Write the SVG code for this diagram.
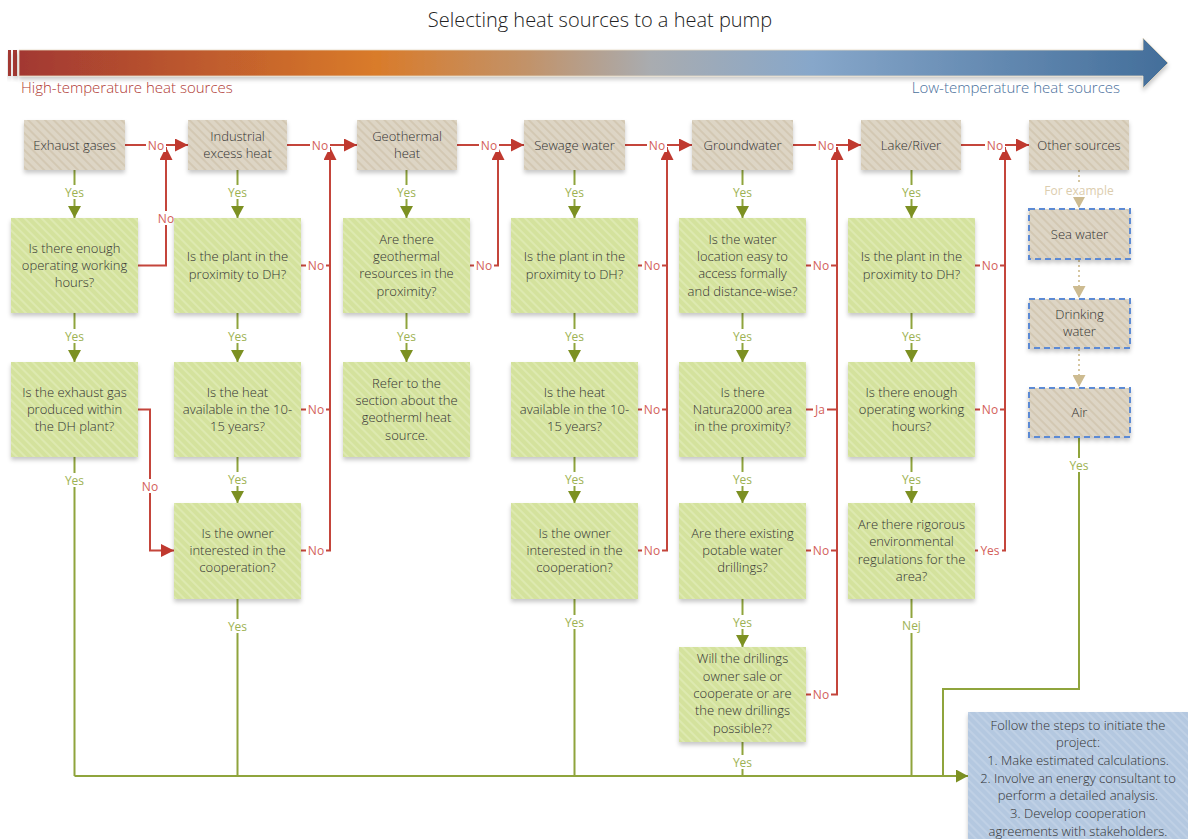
<svg xmlns="http://www.w3.org/2000/svg" width="1188" height="839" viewBox="0 0 1188 839">
<style>
.t{font-family:"Open Sans","Liberation Sans",sans-serif;font-weight:300;fill:#333;font-size:13px;text-anchor:middle}
.st{font-size:13px}
.src{fill:url(#hb)}
.q{fill:url(#hg)}
.ex{fill:url(#hb);stroke:#5B8AD4;stroke-width:2;stroke-dasharray:6 4}
.fin{fill:url(#hbl)}
.r{fill:none;stroke:#C4453B;stroke-width:2}
.g{fill:none;stroke:#8FA43C;stroke-width:2}
.b{fill:none;stroke:#D6C7A2;stroke-width:2;stroke-dasharray:2 3}
.lb{fill:#fff}
.ly{font-family:"Open Sans","Liberation Sans",sans-serif;font-size:12px;fill:#9DB252;text-anchor:middle}
.ln{font-family:"Open Sans","Liberation Sans",sans-serif;font-size:12px;fill:#D3605A;text-anchor:middle}
.le{font-family:"Open Sans","Liberation Sans",sans-serif;font-size:12px;fill:#DCCDAE;text-anchor:middle}
</style>
<defs>
<pattern id="hb" width="6" height="6" patternUnits="userSpaceOnUse" patternTransform="rotate(-45)"><rect width="6" height="6" fill="#DDD5C5"/><rect width="2" height="6" fill="#D3C8B3"/></pattern>
<pattern id="hg" width="6" height="6" patternUnits="userSpaceOnUse" patternTransform="rotate(-45)"><rect width="6" height="6" fill="#D4E29D"/><rect width="2" height="6" fill="#DDE9B0"/></pattern>
<pattern id="hbl" width="6" height="6" patternUnits="userSpaceOnUse" patternTransform="rotate(-45)"><rect width="6" height="6" fill="#B4C8E0"/><rect width="2" height="6" fill="#BFD0E5"/></pattern>
<linearGradient id="bar" x1="19" y1="0" x2="1168" y2="0" gradientUnits="userSpaceOnUse">
<stop offset="0" stop-color="#A23831"/><stop offset="0.31" stop-color="#D97B2A"/><stop offset="0.44" stop-color="#C29268"/><stop offset="0.55" stop-color="#A9ACB0"/><stop offset="0.69" stop-color="#87A7CA"/><stop offset="1" stop-color="#436E9A"/>
</linearGradient>
<filter id="sh" x="-10%" y="-10%" width="120%" height="130%"><feDropShadow dx="0" dy="3" stdDeviation="2" flood-color="#000" flood-opacity="0.22"/></filter>
<marker id="ar" markerUnits="userSpaceOnUse" markerWidth="13" markerHeight="13" refX="13" refY="6.5" orient="auto"><path d="M0,0 L13,6.5 L0,13 Z" fill="#C0392F"/></marker>
<marker id="ag" markerUnits="userSpaceOnUse" markerWidth="13" markerHeight="13" refX="12" refY="6.5" orient="auto"><path d="M0,0 L12,6.5 L0,13 Z" fill="#7C9022"/></marker>
<marker id="ab" markerUnits="userSpaceOnUse" markerWidth="13" markerHeight="13" refX="12" refY="6.5" orient="auto"><path d="M0,0 L12,6.5 L0,13 Z" fill="#CDBB90"/></marker>
</defs>
<rect width="1188" height="839" fill="#fff"/>
<g id="header">
<text x="600" y="27" style="font-family:'Open Sans','Liberation Sans',sans-serif;font-weight:300;font-size:20px;fill:#222;text-anchor:middle">Selecting heat sources to a heat pump</text>
<rect x="8" y="50" width="3" height="26" fill="#A23831" filter="url(#sh)"/>
<rect x="13" y="50" width="4" height="26" fill="#A23831" filter="url(#sh)"/>
<path d="M19,50 H1143 V38 L1168,63 L1143,88 V76 H19 Z" fill="url(#bar)" stroke="#E6D9C2" stroke-width="0.8" filter="url(#sh)"/>
<text x="21" y="93" style="font-family:'Open Sans','Liberation Sans',sans-serif;font-weight:300;font-size:15px;fill:#B03A34">High-temperature heat sources</text>
<text x="1120" y="93" style="font-family:'Open Sans','Liberation Sans',sans-serif;font-weight:300;font-size:15px;fill:#4A6F9C;text-anchor:end">Low-temperature heat sources</text>
</g>
<g id="connectors">
<path class="r" d="M125,145 H188" marker-end="url(#ar)"/>
<path class="r" d="M287,145 H357" marker-end="url(#ar)"/>
<path class="r" d="M457,145 H524" marker-end="url(#ar)"/>
<path class="r" d="M625,145 H692" marker-end="url(#ar)"/>
<path class="r" d="M793,145 H861" marker-end="url(#ar)"/>
<path class="r" d="M961,145 H1029" marker-end="url(#ar)"/>
<path class="r" d="M138,265.5 H166 V147" marker-end="url(#ar)"/>
<path class="r" d="M301,265.5 H330 M301,409.5 H330 M301,550.5 H330 V147" marker-end="url(#ar)"/>
<path class="r" d="M470,265.5 H498 V147" marker-end="url(#ar)"/>
<path class="r" d="M638,265.5 H667 M638,409.5 H667 M638,550.5 H667 V147" marker-end="url(#ar)"/>
<path class="r" d="M806,265.5 H837 M806,409.5 H837 M806,550.5 H837 M806,694.5 H837 V147" marker-end="url(#ar)"/>
<path class="r" d="M975,265.5 H1005 M975,409.5 H1005 M975,550.5 H1005 V147" marker-end="url(#ar)"/>
<path class="r" d="M138,409.5 H150 V550.5 H174" marker-end="url(#ar)"/>
<path class="g" d="M74.5,170 V218" marker-end="url(#ag)"/>
<path class="g" d="M74.5,313 V362" marker-end="url(#ag)"/>
<path class="g" d="M237.5,170 V218" marker-end="url(#ag)"/>
<path class="g" d="M237.5,313 V362" marker-end="url(#ag)"/>
<path class="g" d="M237.5,457 V503" marker-end="url(#ag)"/>
<path class="g" d="M406.5,170 V218" marker-end="url(#ag)"/>
<path class="g" d="M406.5,313 V362" marker-end="url(#ag)"/>
<path class="g" d="M574.5,170 V218" marker-end="url(#ag)"/>
<path class="g" d="M574.5,313 V362" marker-end="url(#ag)"/>
<path class="g" d="M574.5,457 V503" marker-end="url(#ag)"/>
<path class="g" d="M742.5,170 V218" marker-end="url(#ag)"/>
<path class="g" d="M742.5,313 V362" marker-end="url(#ag)"/>
<path class="g" d="M742.5,457 V503" marker-end="url(#ag)"/>
<path class="g" d="M742.5,599 V647" marker-end="url(#ag)"/>
<path class="g" d="M911.5,170 V218" marker-end="url(#ag)"/>
<path class="g" d="M911.5,313 V362" marker-end="url(#ag)"/>
<path class="g" d="M911.5,457 V503" marker-end="url(#ag)"/>
<path class="g" d="M74.5,457 V776 M237.5,599 V776 M574.5,599 V776 M742.5,742 V776 M911.5,599 V776 M1079,438 V689 H943 V776"/>
<path class="g" d="M74.5,776 H968" marker-end="url(#ag)"/>
<path class="b" d="M1079,170 V208" marker-end="url(#ab)"/>
<path class="b" d="M1079,260 V298" marker-end="url(#ab)"/>
<path class="b" d="M1079,349 V387" marker-end="url(#ab)"/>
<g>
<rect class="lb" x="146" y="138" width="20" height="14"/><text class="ln" x="156" y="149.5">No</text>
<rect class="lb" x="310" y="138" width="20" height="14"/><text class="ln" x="320" y="149.5">No</text>
<rect class="lb" x="479" y="138" width="20" height="14"/><text class="ln" x="489" y="149.5">No</text>
<rect class="lb" x="647" y="138" width="20" height="14"/><text class="ln" x="657" y="149.5">No</text>
<rect class="lb" x="816" y="138" width="20" height="14"/><text class="ln" x="826" y="149.5">No</text>
<rect class="lb" x="985" y="138" width="20" height="14"/><text class="ln" x="995" y="149.5">No</text>
<rect class="lb" x="156" y="211" width="20" height="14"/><text class="ln" x="166" y="222.5">No</text>
<rect class="lb" x="140" y="479" width="20" height="14"/><text class="ln" x="150" y="490.5">No</text>
<rect class="lb" x="306" y="258.5" width="20" height="14"/><text class="ln" x="316" y="270">No</text>
<rect class="lb" x="306" y="402.5" width="20" height="14"/><text class="ln" x="316" y="414">No</text>
<rect class="lb" x="306" y="543.5" width="20" height="14"/><text class="ln" x="316" y="555">No</text>
<rect class="lb" x="474" y="258.5" width="20" height="14"/><text class="ln" x="484" y="270">No</text>
<rect class="lb" x="642" y="258.5" width="20" height="14"/><text class="ln" x="652" y="270">No</text>
<rect class="lb" x="642" y="402.5" width="20" height="14"/><text class="ln" x="652" y="414">No</text>
<rect class="lb" x="642" y="543.5" width="20" height="14"/><text class="ln" x="652" y="555">No</text>
<rect class="lb" x="811" y="258.5" width="20" height="14"/><text class="ln" x="821" y="270">No</text>
<rect class="lb" x="813" y="402.5" width="14" height="14"/><text class="ln" x="820" y="414">Ja</text>
<rect class="lb" x="811" y="543.5" width="20" height="14"/><text class="ln" x="821" y="555">No</text>
<rect class="lb" x="811" y="687.5" width="20" height="14"/><text class="ln" x="821" y="699">No</text>
<rect class="lb" x="980" y="258.5" width="20" height="14"/><text class="ln" x="990" y="270">No</text>
<rect class="lb" x="980" y="402.5" width="20" height="14"/><text class="ln" x="990" y="414">No</text>
<rect class="lb" x="978" y="543.5" width="24" height="14"/><text class="ln" x="990" y="555">Yes</text>
</g>
<g>
<rect class="lb" x="62" y="185" width="25" height="14"/><text class="ly" x="74.5" y="196.5">Yes</text>
<rect class="lb" x="62" y="329" width="25" height="14"/><text class="ly" x="74.5" y="340.5">Yes</text>
<rect class="lb" x="62" y="473" width="25" height="14"/><text class="ly" x="74.5" y="484.5">Yes</text>
<rect class="lb" x="225" y="185" width="25" height="14"/><text class="ly" x="237.5" y="196.5">Yes</text>
<rect class="lb" x="225" y="329" width="25" height="14"/><text class="ly" x="237.5" y="340.5">Yes</text>
<rect class="lb" x="225" y="472" width="25" height="14"/><text class="ly" x="237.5" y="483.5">Yes</text>
<rect class="lb" x="225" y="619" width="25" height="14"/><text class="ly" x="237.5" y="630.5">Yes</text>
<rect class="lb" x="394" y="185" width="25" height="14"/><text class="ly" x="406.5" y="196.5">Yes</text>
<rect class="lb" x="394" y="329" width="25" height="14"/><text class="ly" x="406.5" y="340.5">Yes</text>
<rect class="lb" x="562" y="185" width="25" height="14"/><text class="ly" x="574.5" y="196.5">Yes</text>
<rect class="lb" x="562" y="329" width="25" height="14"/><text class="ly" x="574.5" y="340.5">Yes</text>
<rect class="lb" x="562" y="472" width="25" height="14"/><text class="ly" x="574.5" y="483.5">Yes</text>
<rect class="lb" x="562" y="615" width="25" height="14"/><text class="ly" x="574.5" y="626.5">Yes</text>
<rect class="lb" x="730" y="185" width="25" height="14"/><text class="ly" x="742.5" y="196.5">Yes</text>
<rect class="lb" x="730" y="329" width="25" height="14"/><text class="ly" x="742.5" y="340.5">Yes</text>
<rect class="lb" x="730" y="472" width="25" height="14"/><text class="ly" x="742.5" y="483.5">Yes</text>
<rect class="lb" x="730" y="615" width="25" height="14"/><text class="ly" x="742.5" y="626.5">Yes</text>
<rect class="lb" x="730" y="755" width="25" height="14"/><text class="ly" x="742.5" y="766.5">Yes</text>
<rect class="lb" x="899" y="185" width="25" height="14"/><text class="ly" x="911.5" y="196.5">Yes</text>
<rect class="lb" x="899" y="329" width="25" height="14"/><text class="ly" x="911.5" y="340.5">Yes</text>
<rect class="lb" x="899" y="472" width="25" height="14"/><text class="ly" x="911.5" y="483.5">Yes</text>
<rect class="lb" x="900" y="618" width="23" height="15"/><text class="ly" x="911.5" y="629.5">Nej</text>
<rect class="lb" x="1067" y="458" width="25" height="14"/><text class="ly" x="1079" y="469.5">Yes</text>
<rect class="lb" x="1040" y="183" width="78" height="14"/><text class="le" x="1079" y="194.5">For example</text>
</g>
</g>
<g id="src-exhaust"><rect class="src" x="24" y="120" width="101" height="50" filter="url(#sh)"/><text class="t st" x="74.5" y="149.5">Exhaust gases</text></g>
<g id="src-industrial"><rect class="src" x="188" y="120" width="99" height="50" filter="url(#sh)"/><text class="t st" x="237.5" y="141">Industrial</text><text class="t st" x="237.5" y="158">excess heat</text></g>
<g id="src-geothermal"><rect class="src" x="357" y="120" width="100" height="50" filter="url(#sh)"/><text class="t st" x="407" y="141">Geothermal</text><text class="t st" x="407" y="158">heat</text></g>
<g id="src-sewage"><rect class="src" x="524" y="120" width="101" height="50" filter="url(#sh)"/><text class="t st" x="574.5" y="149.5">Sewage water</text></g>
<g id="src-groundwater"><rect class="src" x="692" y="120" width="101" height="50" filter="url(#sh)"/><text class="t st" x="742.5" y="149.5">Groundwater</text></g>
<g id="src-lake"><rect class="src" x="861" y="120" width="100" height="50" filter="url(#sh)"/><text class="t st" x="911" y="149.5">Lake/River</text></g>
<g id="src-other"><rect class="src" x="1029" y="120" width="100" height="50" filter="url(#sh)"/><text class="t st" x="1079" y="149.5">Other sources</text></g>
<g id="ex-sea"><rect class="ex" x="1029" y="209" width="101" height="50" filter="url(#sh)"/><text class="t" x="1079.5" y="238.5">Sea water</text></g>
<g id="ex-drinking"><rect class="ex" x="1029" y="299" width="101" height="49" filter="url(#sh)"/><text class="t" x="1079.5" y="319">Drinking</text><text class="t" x="1079.5" y="336">water</text></g>
<g id="ex-air"><rect class="ex" x="1029" y="388" width="101" height="49" filter="url(#sh)"/><text class="t" x="1079.5" y="417">Air</text></g>

<g id="q1a"><rect class="q" x="11" y="218" width="127" height="95" filter="url(#sh)"/><text class="t" x="74.5" y="252.5">Is there enough</text><text class="t" x="74.5" y="269.8">operating working</text><text class="t" x="74.5" y="287.1">hours?</text></g>
<g id="q1b"><rect class="q" x="11" y="362" width="127" height="95" filter="url(#sh)"/><text class="t" x="74.5" y="396.5">Is the exhaust gas</text><text class="t" x="74.5" y="413.8">produced within</text><text class="t" x="74.5" y="431.1">the DH plant?</text></g>

<g id="q2a"><rect class="q" x="174" y="218" width="127" height="95" filter="url(#sh)"/><text class="t" x="237.5" y="261.2">Is the plant in the</text><text class="t" x="237.5" y="278.5">proximity to DH?</text></g>
<g id="q2b"><rect class="q" x="174" y="362" width="127" height="95" filter="url(#sh)"/><text class="t" x="237.5" y="396.5">Is the heat</text><text class="t" x="237.5" y="413.8">available in the 10-</text><text class="t" x="237.5" y="431.1">15 years?</text></g>
<g id="q2c"><rect class="q" x="174" y="503" width="127" height="96" filter="url(#sh)"/><text class="t" x="237.5" y="537.5">Is the owner</text><text class="t" x="237.5" y="554.8">interested in the</text><text class="t" x="237.5" y="572.1">cooperation?</text></g>

<g id="q3a"><rect class="q" x="343" y="218" width="127" height="95" filter="url(#sh)"/><text class="t" x="406.5" y="243.8">Are there</text><text class="t" x="406.5" y="261.1">geothermal</text><text class="t" x="406.5" y="278.4">resources in the</text><text class="t" x="406.5" y="295.7">proximity?</text></g>
<g id="q3b"><rect class="q" x="343" y="362" width="127" height="95" filter="url(#sh)"/><text class="t" x="406.5" y="387.8">Refer to the</text><text class="t" x="406.5" y="405.1">section about the</text><text class="t" x="406.5" y="422.4">geotherml heat</text><text class="t" x="406.5" y="439.7">source.</text></g>

<g id="q4a"><rect class="q" x="511" y="218" width="127" height="95" filter="url(#sh)"/><text class="t" x="574.5" y="261.2">Is the plant in the</text><text class="t" x="574.5" y="278.5">proximity to DH?</text></g>
<g id="q4b"><rect class="q" x="511" y="362" width="127" height="95" filter="url(#sh)"/><text class="t" x="574.5" y="396.5">Is the heat</text><text class="t" x="574.5" y="413.8">available in the 10-</text><text class="t" x="574.5" y="431.1">15 years?</text></g>
<g id="q4c"><rect class="q" x="511" y="503" width="127" height="96" filter="url(#sh)"/><text class="t" x="574.5" y="537.5">Is the owner</text><text class="t" x="574.5" y="554.8">interested in the</text><text class="t" x="574.5" y="572.1">cooperation?</text></g>

<g id="q5a"><rect class="q" x="679" y="218" width="127" height="95" filter="url(#sh)"/><text class="t" x="742.5" y="243.8">Is the water</text><text class="t" x="742.5" y="261.1">location easy to</text><text class="t" x="742.5" y="278.4">access formally</text><text class="t" x="742.5" y="295.7">and distance-wise?</text></g>
<g id="q5b"><rect class="q" x="679" y="362" width="127" height="95" filter="url(#sh)"/><text class="t" x="742.5" y="396.5">Is there</text><text class="t" x="742.5" y="413.8">Natura2000 area</text><text class="t" x="742.5" y="431.1">in the proximity?</text></g>
<g id="q5c"><rect class="q" x="679" y="503" width="127" height="96" filter="url(#sh)"/><text class="t" x="742.5" y="537.5">Are there existing</text><text class="t" x="742.5" y="554.8">potable water</text><text class="t" x="742.5" y="572.1">drillings?</text></g>
<g id="q5d"><rect class="q" x="679" y="647" width="127" height="95" filter="url(#sh)"/><text class="t" x="742.5" y="663.4">Will the drillings</text><text class="t" x="742.5" y="680.7">owner sale or</text><text class="t" x="742.5" y="698">cooperate or are</text><text class="t" x="742.5" y="715.3">the new drillings</text><text class="t" x="742.5" y="732.6">possible??</text></g>

<g id="q6a"><rect class="q" x="848" y="218" width="127" height="95" filter="url(#sh)"/><text class="t" x="911.5" y="261.2">Is the plant in the</text><text class="t" x="911.5" y="278.5">proximity to DH?</text></g>
<g id="q6b"><rect class="q" x="848" y="362" width="127" height="95" filter="url(#sh)"/><text class="t" x="911.5" y="396.5">Is there enough</text><text class="t" x="911.5" y="413.8">operating working</text><text class="t" x="911.5" y="431.1">hours?</text></g>
<g id="q6c"><rect class="q" x="848" y="503" width="127" height="96" filter="url(#sh)"/><text class="t" x="911.5" y="529">Are there rigorous</text><text class="t" x="911.5" y="546.3">environmental</text><text class="t" x="911.5" y="563.6">regulations for the</text><text class="t" x="911.5" y="580.9">area?</text></g>

<g id="final"><rect class="fin" x="968" y="712" width="222" height="130" filter="url(#sh)"/>
<text class="t" x="1078" y="729.5">Follow the steps to initiate the</text>
<text class="t" x="1078" y="747.2">project:</text>
<text class="t" x="1078" y="764.9">1. Make estimated calculations.</text>
<text class="t" x="1078" y="782.6">2. Involve an energy consultant to</text>
<text class="t" x="1078" y="800.3">perform a detailed analysis.</text>
<text class="t" x="1078" y="818">3. Develop cooperation</text>
<text class="t" x="1078" y="835.7">agreements with stakeholders.</text>
</g>
</svg>
